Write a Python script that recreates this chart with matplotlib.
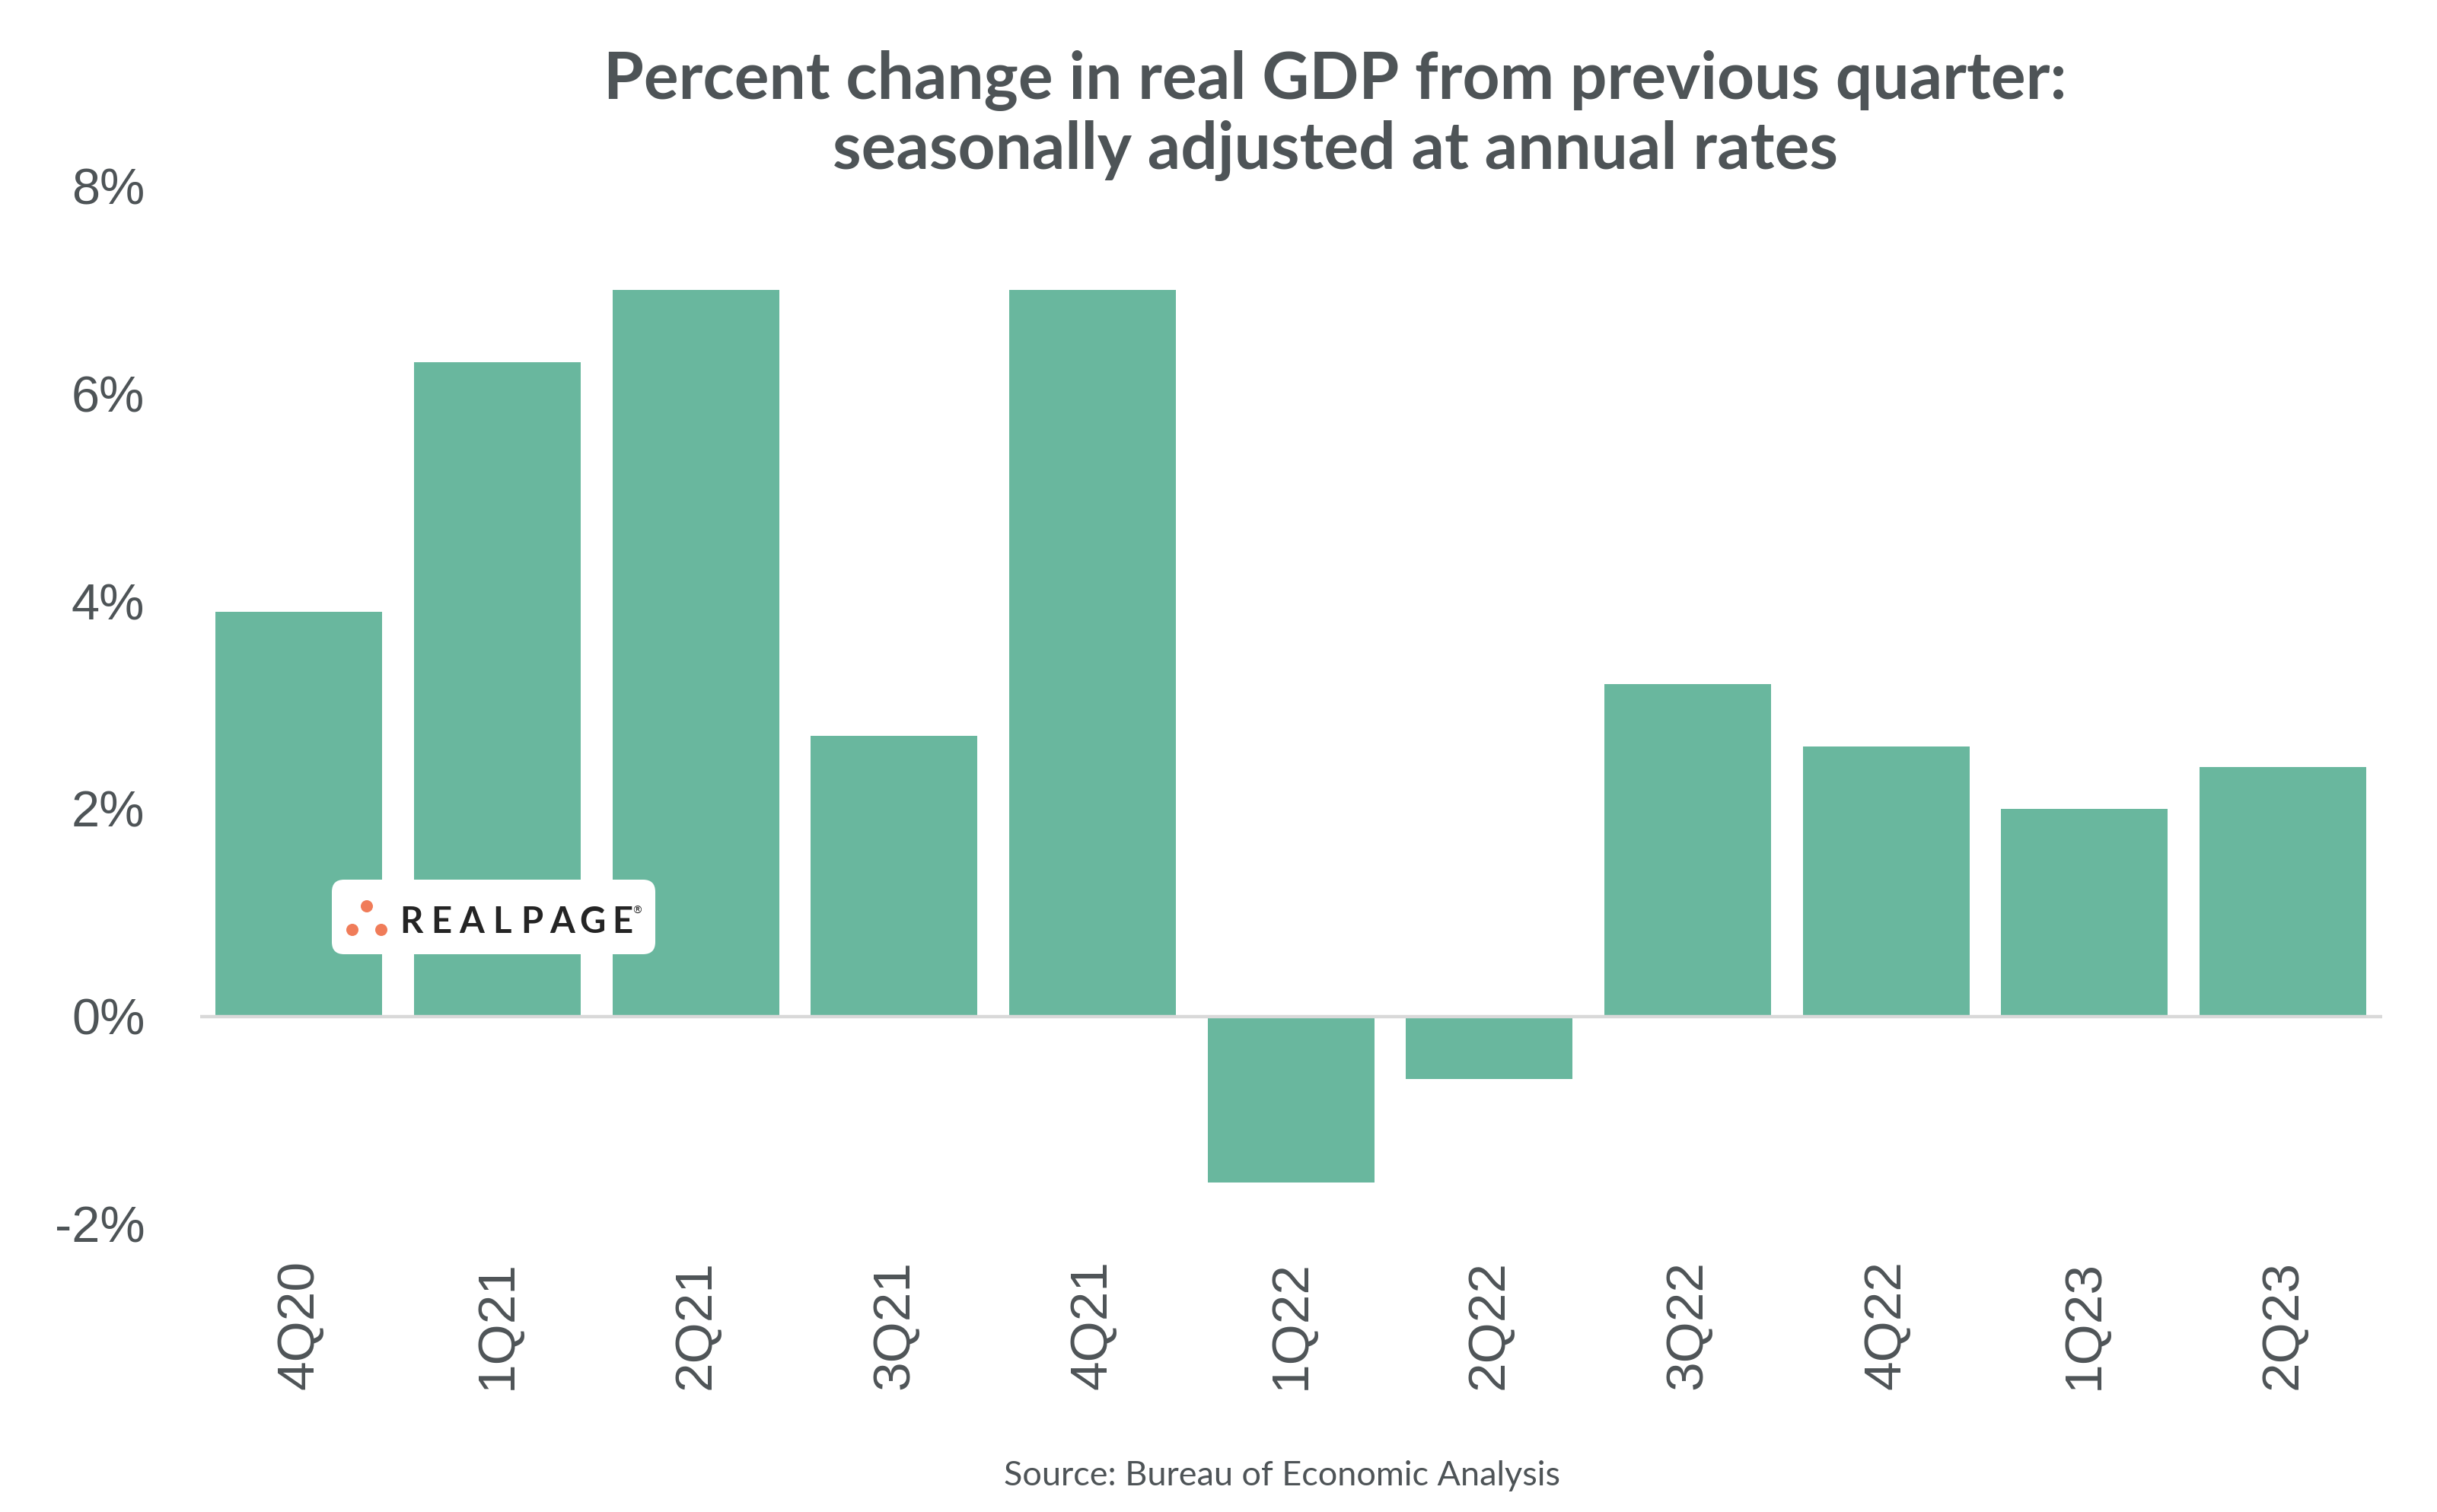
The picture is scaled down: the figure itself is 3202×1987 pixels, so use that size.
import matplotlib
matplotlib.use("Agg")
import matplotlib.pyplot as plt
from matplotlib.patches import FancyBboxPatch, Circle
from matplotlib.ticker import FuncFormatter

# ---- data ----
quarters = ["4Q20", "1Q21", "2Q21", "3Q21", "4Q21", "1Q22",
            "2Q22", "3Q22", "4Q22", "1Q23", "2Q23"]
gdp_change = [3.9, 6.3, 7.0, 2.7, 7.0, -1.6, -0.6, 3.2, 2.6, 2.0, 2.4]
y_ticks = [-2, 0, 2, 4, 6, 8]

TITLE = ("Percent change in real GDP from previous quarter:\n"
         "seasonally adjusted at annual rates")
SOURCE = "Source: Bureau of Economic Analysis"

# ---- style ----
BAR = "#69b79e"
INK = "#4e5457"
ZERO = "#d9d9d9"
ORANGE = "#f07c59"
LOGO_INK = "#242424"

fig = plt.figure(figsize=(16.01, 9.935), dpi=200)
fig.patch.set_facecolor("white")
ax = fig.add_axes([0.082, 0.1905, 0.8955, 0.6865])

x = range(len(quarters))
ax.bar(x, gdp_change, width=0.84, color=BAR, zorder=2)
ax.axhline(0, color=ZERO, lw=1.6, zorder=3)

ax.set_xlim(-0.5, len(quarters) - 0.5)
ax.set_ylim(-2, 8)
ax.set_yticks(y_ticks)
ax.yaxis.set_major_formatter(FuncFormatter(lambda v, p: f"{v:.0f}%"))
ax.set_xticks(list(x))
ax.set_xticklabels(quarters, rotation=90)
for s in ax.spines.values():
    s.set_visible(False)
ax.tick_params(axis="y", length=0, pad=26, labelsize=24, labelcolor=INK)
ax.tick_params(axis="x", length=0, pad=17, labelsize=25, labelcolor=INK)
for lab in ax.get_xticklabels() + ax.get_yticklabels():
    lab.set_fontfamily("Liberation Sans")

fig.text(0.548, 0.9235, TITLE, ha="center", va="center", fontsize=30.8,
         fontweight="bold", family="Lato", color=INK, linespacing=1.2)
fig.text(0.526, 0.024, SOURCE, ha="center", va="center", fontsize=16.2,
         family="Lato", color=INK)

# ---- RealPage logo badge (drawn in its own pixel-sized axes) ----
lg = fig.add_axes([436 / 3202, 1 - 1254 / 1987, 425 / 3202, 98 / 1987])
lg.set_xlim(0, 425)
lg.set_ylim(0, 98)
lg.axis("off")
lg.add_patch(FancyBboxPatch((8, 8), 409, 82, boxstyle="round,pad=8,rounding_size=16",
                            fc="white", ec="none"))
for cx, cy in [(46, 63), (27, 32), (65, 32)]:
    lg.add_patch(Circle((cx, cy), 8, fc=ORANGE, ec="none"))
for i, ch in enumerate("REALPAGE"):
    lg.text(104 + i * 39.7, 42, ch, ha="center", va="center", fontsize=17,
            fontweight="bold", family="Lato", color=LOGO_INK)
lg.text(401, 57, "®", ha="center", va="center", fontsize=5, color=LOGO_INK)

fig.savefig("out.png", dpi=200, facecolor="white")
